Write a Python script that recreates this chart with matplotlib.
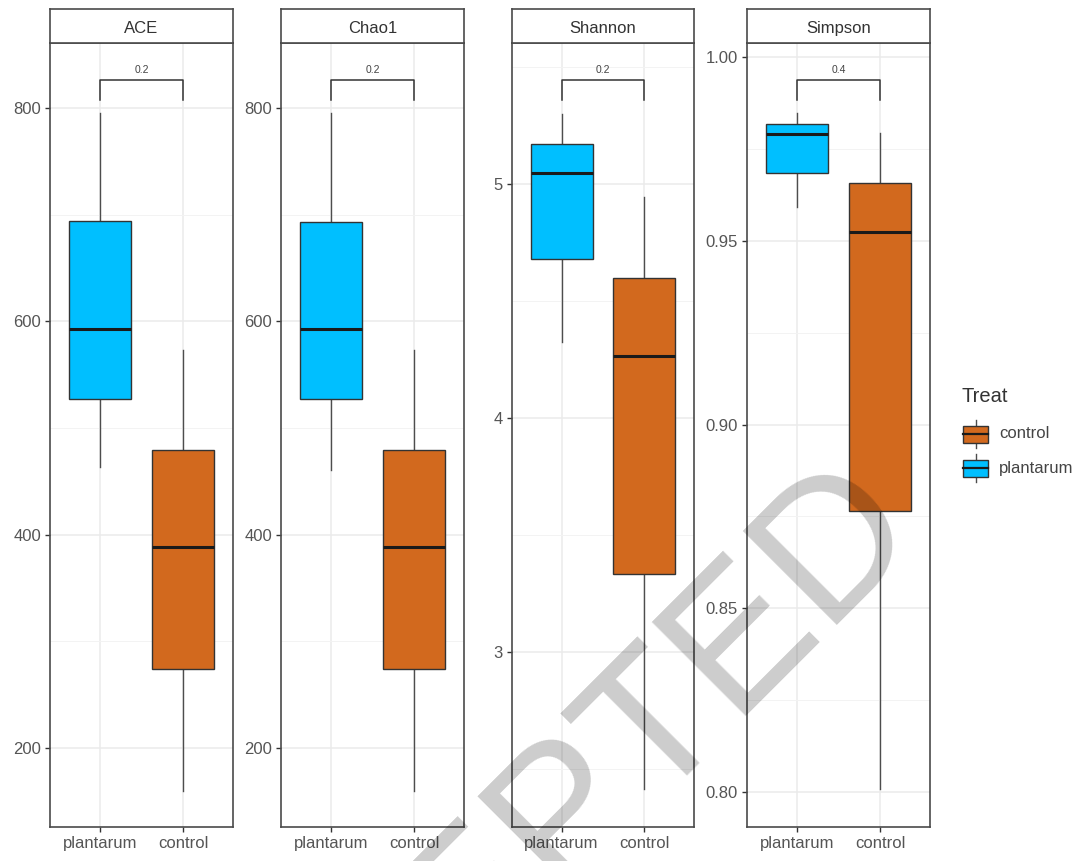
import matplotlib
matplotlib.use("Agg")
import matplotlib.pyplot as plt
from matplotlib.patches import Rectangle
from matplotlib.lines import Line2D

plt.rcParams['font.family'] = ['Liberation Sans', 'DejaVu Sans']

# ---- data -------------------------------------------------------------
metrics = ["ACE", "Chao1", "Shannon", "Simpson"]
groups = ["plantarum", "control"]

# five-number summaries: lower whisker, Q1, median, Q3, upper whisker
ace_plantarum = [463, 527, 593, 694, 795]
ace_control = [160, 274, 388, 479, 573]
chao1_plantarum = [461, 527, 593, 693, 795]
chao1_control = [160, 274, 388, 479, 573]
shannon_plantarum = [4.325, 4.68, 5.047, 5.17, 5.30]
shannon_control = [2.415, 3.333, 4.265, 4.60, 4.945]
simpson_plantarum = [0.9592, 0.9685, 0.979, 0.9818, 0.9848]
simpson_control = [0.8008, 0.8765, 0.9524, 0.9658, 0.9793]

p_values = ["0.2", "0.2", "0.2", "0.4"]
bracket_top = [826.0, 826.0, 5.444, 0.99374]
bracket_tip = [807.5, 807.5, 5.359, 0.9883]

y_limits = [(125.9, 860.9), (125.9, 860.9), (2.252, 5.603), (0.7905, 1.0038)]
y_major = [[200, 400, 600, 800], [200, 400, 600, 800], [3, 4, 5],
           [0.80, 0.85, 0.90, 0.95, 1.00]]
y_minor = [[300, 500, 700], [300, 500, 700], [2.5, 3.5, 4.5, 5.5],
           [0.825, 0.875, 0.925, 0.975]]
y_fmt = ["{:.0f}", "{:.0f}", "{:.0f}", "{:.2f}"]

legend_title = "Treat"
legend_order = ["control", "plantarum"]

summaries = {
    "ACE": [ace_plantarum, ace_control],
    "Chao1": [chao1_plantarum, chao1_control],
    "Shannon": [shannon_plantarum, shannon_control],
    "Simpson": [simpson_plantarum, simpson_control],
}

fill = {"plantarum": "#00BFFF", "control": "#D2691E"}

# ---- layout (pixels) --------------------------------------------------
W, H = 1084, 861
fig = plt.figure(figsize=(W / 100, H / 100), dpi=100)
fig.patch.set_facecolor("white")

panel_left = [50, 281, 512, 747]
panel_right = [233, 464, 694, 930]
strip_top, panel_top, panel_bottom = 9, 43, 827

frame_col = "#4a4a4a"
text_col = "#555555"


def fig_rect(x0, y0, x1, y1):
    return [x0 / W, 1 - y1 / H, (x1 - x0) / W, (y1 - y0) / H]


for i, m in enumerate(metrics):
    ax = fig.add_axes(fig_rect(panel_left[i], panel_top, panel_right[i], panel_bottom))
    ax.set_facecolor("white")
    stats = []
    for g, s in zip(groups, summaries[m]):
        stats.append(dict(whislo=s[0], q1=s[1], med=s[2], q3=s[3], whishi=s[4],
                          fliers=[], label=g))
    bp = ax.bxp(stats, positions=[1, 2], widths=0.75, patch_artist=True,
                showcaps=False, showfliers=False,
                boxprops=dict(edgecolor="#333333", linewidth=1.0),
                whiskerprops=dict(color="#4d4d4d", linewidth=1.0),
                medianprops=dict(color="#1a1a1a", linewidth=2.2))
    for patch, g in zip(bp["boxes"], groups):
        patch.set_facecolor(fill[g])
        patch.set_zorder(3)
    for ln in bp["medians"]:
        ln.set_zorder(4)

    ax.set_xlim(0.4, 2.6)
    ax.set_ylim(*y_limits[i])
    ax.set_xticks([1, 2])
    ax.set_xticklabels(groups)
    ax.set_yticks(y_major[i])
    ax.set_yticklabels([y_fmt[i].format(v) for v in y_major[i]])
    ax.set_yticks(y_minor[i], minor=True)
    ax.set_axisbelow(True)
    ax.grid(which="major", color="#EBEBEB", linewidth=1.1)
    ax.grid(which="minor", axis="y", color="#F3F3F3", linewidth=0.7)
    ax.tick_params(which="major", length=3.5, width=1.0, color="#333333",
                   labelsize=12, labelcolor=text_col, pad=3)
    ax.tick_params(which="minor", length=0)
    for sp in ax.spines.values():
        sp.set_color(frame_col)
        sp.set_linewidth(1.2)

    # comparison bracket with p value
    ax.plot([1, 1, 2, 2], [bracket_tip[i], bracket_top[i], bracket_top[i], bracket_tip[i]],
            color="#333333", linewidth=1.1, zorder=5, clip_on=False)
    ax.annotate(p_values[i], xy=(1.5, bracket_top[i]), xytext=(0, 3.5),
                textcoords="offset points", ha="center", va="bottom",
                fontsize=7.5, color="#444444")

    # facet strip
    sax = fig.add_axes(fig_rect(panel_left[i], strip_top, panel_right[i], panel_top))
    sax.set_xticks([])
    sax.set_yticks([])
    sax.set_facecolor("white")
    for sp in sax.spines.values():
        sp.set_color(frame_col)
        sp.set_linewidth(1.2)
    sax.text(0.5, 0.44, m, ha="center", va="center", fontsize=12,
             color="#333333", transform=sax.transAxes)

# ---- legend -----------------------------------------------------------
lax = fig.add_axes([0, 0, 1, 1], facecolor="none")
lax.set_xlim(0, W)
lax.set_ylim(H, 0)
lax.set_axis_off()
lax.text(961, 397, legend_title, ha="left", va="center", fontsize=14.5, color="#333333")
key_y = [434, 468]
for g, yc in zip(legend_order, key_y):
    lax.add_line(Line2D([975.5, 975.5], [yc - 14, yc + 14], color="#4d4d4d", linewidth=1.0))
    lax.add_patch(Rectangle((963, yc - 8.5), 25, 17, facecolor=fill[g],
                            edgecolor="#333333", linewidth=1.0, zorder=3))
    lax.add_line(Line2D([963, 988], [yc, yc], color="#1a1a1a", linewidth=1.6, zorder=4))
    lax.text(999, yc, g, ha="left", va="center", fontsize=12, color="#444444")

# ---- watermark --------------------------------------------------------
fig.text(554 / W, 1 - 908 / H, "ACCEPTED", rotation=45, rotation_mode="anchor",
         ha="center", va="baseline", fontsize=139, color="black", alpha=0.2,
         zorder=20)

fig.savefig("out.png", dpi=100, facecolor="white")
